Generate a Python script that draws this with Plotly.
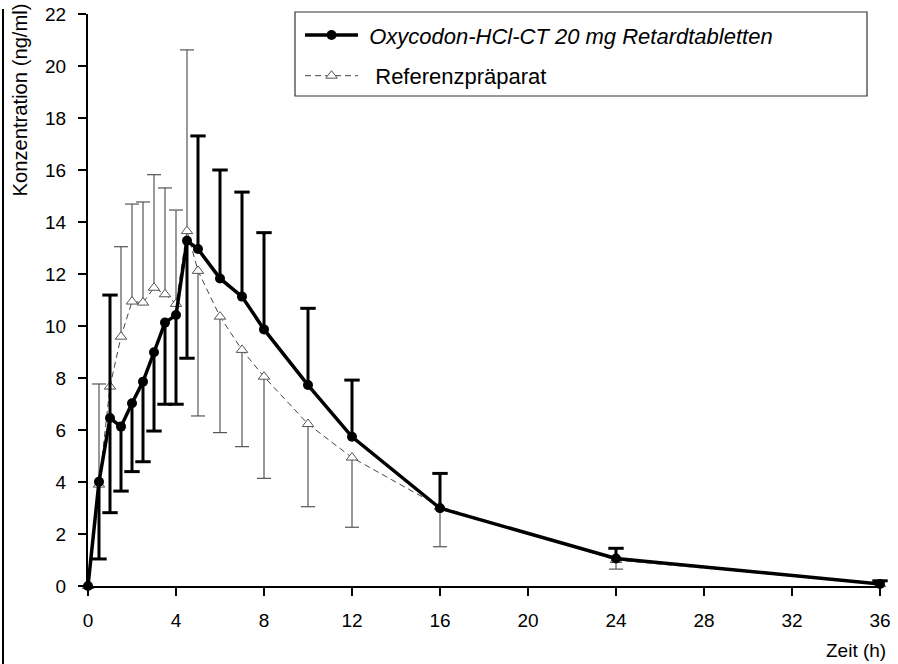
import plotly.graph_objects as go

# ---- data ----
time_h = [0, 0.5, 1, 1.5, 2, 2.5, 3, 3.5, 4, 4.5, 5, 6, 7, 8, 10, 12, 16, 24, 36]

test_mean = [0, 4.01, 6.46, 6.13, 7.03, 7.86, 8.99, 10.13, 10.42, 13.28,
             12.96, 11.83, 11.13, 9.87, 7.73, 5.74, 2.99, 1.06, 0.08]
test_upper = [None, None, 11.19, None, None, None, None, None, None, None,
              17.31, 16.0, 15.15, 13.59, 10.68, 7.92, 4.33, 1.45, 0.2]
test_lower = [None, 1.04, 2.82, 3.65, 4.4, 4.78, 5.96, 6.99, 6.99, 8.76,
              None, None, None, None, None, None, None, None, None]

ref_mean = [0, 3.9, 7.67, 9.59, 10.94, 10.9, 11.47, 11.22, 10.85, 13.65,
            12.12, 10.36, 9.08, 8.05, 6.23, 4.94, 3.05, 1.0, 0.07]
ref_upper = [None, 7.77, None, 13.05, 14.69, 14.77, 15.82, 15.31, 14.46, 20.62,
             None, None, None, None, None, None, None, None, None]
ref_lower = [None, None, None, None, None, None, None, None, None, None,
             6.54, 5.9, 5.36, 4.14, 3.05, 2.26, 1.51, 0.65, None]

x_ticks = [0, 4, 8, 12, 16, 20, 24, 28, 32, 36]
y_ticks = [0, 2, 4, 6, 8, 10, 12, 14, 16, 18, 20, 22]

name_test = "Oxycodon-HCl-CT 20 mg Retardtabletten"
name_ref = "Referenzpräparat"


def plus(mean, up):
    return [(u - m) if u is not None else 0 for m, u in zip(mean, up)]


def minus(mean, lo):
    return [(m - l) if l is not None else 0 for m, l in zip(mean, lo)]


def caps(xs, vals):
    px = [x for x, v in zip(xs, vals) if v is not None]
    py = [v for v in vals if v is not None]
    return px, py


FONT = "Arial, 'Liberation Sans', sans-serif"
fig = go.Figure()

# reference caps
for arr in (ref_upper, ref_lower):
    cx, cy = caps(time_h, arr)
    fig.add_trace(go.Scatter(x=cx, y=cy, mode="markers", showlegend=False,
                             hoverinfo="skip", cliponaxis=False,
                             marker=dict(symbol="line-ew", size=10,
                                         line=dict(width=1.2, color="#555555"))))

# reference series
fig.add_trace(go.Scatter(
    x=time_h, y=ref_mean, name="\u00a0\u00a0" + name_ref, mode="lines+markers",
    legendrank=2, legendgroup="ref", cliponaxis=False,
    line=dict(color="#444444", width=1, dash="6px,4px"),
    marker=dict(symbol="triangle-up", size=10, color="white",
                line=dict(color="#555555", width=1)),
    error_y=dict(type="data", symmetric=False, array=plus(ref_mean, ref_upper),
                 arrayminus=minus(ref_mean, ref_lower), width=0,
                 thickness=1.2, color="#555555"),
))

# test caps
for arr in (test_upper, test_lower):
    cx, cy = caps(time_h, arr)
    fig.add_trace(go.Scatter(x=cx, y=cy, mode="markers", showlegend=False,
                             hoverinfo="skip", cliponaxis=False,
                             marker=dict(symbol="line-ew", size=11,
                                         line=dict(width=3, color="black"))))

# test series
fig.add_trace(go.Scatter(
    x=time_h, y=test_mean, name="\u00a0<i>" + name_test + "</i>",
    mode="lines+markers", legendrank=1, legendgroup="test", cliponaxis=False,
    line=dict(color="black", width=3.5),
    marker=dict(symbol="circle", size=10, color="black"),
    error_y=dict(type="data", symmetric=False, array=plus(test_mean, test_upper),
                 arrayminus=minus(test_mean, test_lower), width=0,
                 thickness=3, color="black"),
))

fig.update_layout(
    width=898, height=664,
    margin=dict(l=88, r=18, t=14, b=78, autoexpand=False),
    paper_bgcolor="white", plot_bgcolor="white",
    font=dict(family=FONT, color="black", size=19),
    showlegend=True,
    legend=dict(x=0.2677, y=0.9995, xanchor="left", yanchor="top",
                bgcolor="rgba(0,0,0,0)", borderwidth=0,
                font=dict(size=22, family=FONT, color="black"),
                itemwidth=53, traceorder="grouped", tracegroupgap=9),
    xaxis=dict(range=[0, 36], tickvals=x_ticks, ticks="outside", ticklen=8,
               tickwidth=2, tickcolor="black", showline=True, linewidth=2,
               linecolor="black", showgrid=False, zeroline=False,
               automargin=False,
               ticklabelstandoff=8, tickfont=dict(size=19)),
    yaxis=dict(range=[0, 22], tickvals=y_ticks, ticks="outside", ticklen=8,
               tickwidth=2, tickcolor="black", showline=True, linewidth=2,
               linecolor="black", showgrid=False, zeroline=False,
               automargin=False,
               ticklabelstandoff=8, tickfont=dict(size=19)),
    shapes=[
        dict(type="rect", xref="paper", yref="paper",
             x0=(295 - 88) / 792, x1=(867 - 88) / 792,
             y0=(586 - 96) / 572, y1=(586 - 12) / 572,
             line=dict(color="#333333", width=1.2), layer="above"),
        dict(type="line", xref="paper", yref="paper",
             x0=(3 - 88) / 792, x1=(3 - 88) / 792,
             y0=(586 - 664) / 572, y1=(586 - 9) / 572,
             line=dict(color="black", width=2)),
    ],
    annotations=[
        dict(text="Zeit (h)", xref="paper", yref="paper", x=1, xshift=8,
             y=(586 - 651) / 572, xanchor="right", yanchor="middle",
             showarrow=False, font=dict(size=19, family=FONT)),
        dict(text="Konzentration (ng/ml)", xref="paper", yref="paper",
             x=(19 - 88) / 792, y=(586 - 199) / 572, xanchor="center",
             yanchor="bottom", textangle=-90, showarrow=False,
             font=dict(size=20.2, family=FONT)),
    ],
)

fig.write_html("out.html",
               config={"displayModeBar": False},
               post_script="document.body.style.margin='0px';"
                           "document.body.style.overflow='hidden';")
